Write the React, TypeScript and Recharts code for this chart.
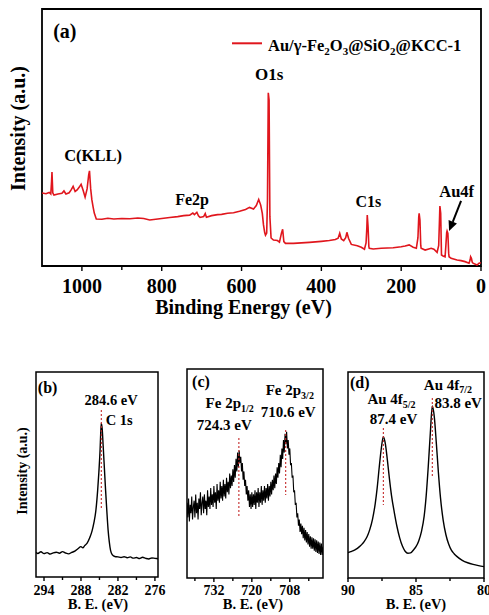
import React from 'react';
import { LineChart, Line, XAxis, YAxis, ReferenceArea, ReferenceLine, ReferenceDot, Legend } from 'recharts';

const FONT = "'Liberation Serif', 'Times New Roman', serif";
const RED = '#e0161d';
const DOT_RED = '#c42a2a';

type Pt = [number, number];

// (a) survey spectrum: [binding energy eV, intensity a.u.]
const surveyPoints: Pt[] = [
  [1100, 28.4], [1090, 28.1], [1082, 28.6], [1078, 28.0], [1076, 33], [1075, 36.6], [1073, 28.5], [1070, 27.6],
  [1060, 28.0], [1050, 28.3], [1045, 29.2], [1040, 28.0], [1032, 28.5], [1027, 29.6], [1022, 31.0], [1017, 29.0],
  [1012, 29.6], [1007, 30.6], [1002, 31.8], [997, 29.5], [992, 26.8], [987, 30], [983, 35.5], [981, 37], [978, 30],
  [975, 25.7], [972, 23], [969, 20.6], [964, 18.3], [950, 18.2], [935, 18.6], [920, 18.3], [900, 18.5], [880, 18.4],
  [860, 18.7], [845, 18.5], [830, 17.9], [815, 18.2], [800, 18.5], [780, 18.9], [760, 19.2], [745, 19.6], [730, 19.8],
  [722, 20.6], [718, 20.0], [712, 20.9], [708, 19.5], [704, 18.9], [695, 19.2], [691, 20.4], [688, 19.0], [675, 19.6],
  [660, 20.0], [650, 20.1], [635, 20.5], [620, 20.7], [605, 21.3], [590, 22.0], [580, 22.8], [570, 22.2], [563, 23.5],
  [557, 25.9], [552, 23.7], [548, 20.5], [545, 16], [542, 13], [540, 12], [537, 12.8], [535, 25.7], [533, 67.4],
  [531, 64.6], [529, 19.2], [526, 10.9], [520, 10.1], [510, 9.9], [505, 9.3], [500, 12.8], [497, 14.3], [494, 9.5],
  [490, 8.8], [470, 8.8], [450, 9.0], [430, 9.2], [400, 9.6], [380, 9.9], [365, 10.3], [358, 10.8], [354, 12.7],
  [350, 10.5], [344, 9.9], [339, 11], [336, 13.1], [332, 10.8], [325, 8.4], [310, 7.9], [300, 7.3], [292, 6.5],
  [288, 9], [286, 15], [285, 19.8], [283, 15.3], [281, 7.5], [280, 6.9], [270, 6.6], [250, 6.9], [220, 7.1],
  [200, 7.5], [190, 7.8], [180, 8.2], [170, 7.3], [162, 6.9], [158, 11], [156, 19], [155, 20.5], [153, 17.9],
  [151, 8], [150, 6.9], [140, 6.2], [125, 6.9], [118, 6.5], [110, 5.3], [106, 8], [104, 18], [103, 23.3], [101, 20.5],
  [99, 4.3], [95, 3.9], [90, 3.6], [88, 8], [86, 13.0], [85, 13.6], [83, 12.7], [81, 5], [80, 3.6], [75, 3.0],
  [60, 2.3], [50, 2.1], [40, 1.7], [30, 1.1], [27, 2.5], [26, 3.6], [24, 3.0], [22, 1.5], [20, 1.1], [10, 0.4],
  [5, 1.1], [0, 1.3],
];
const surveyMajorTicks = [1000, 800, 600, 400, 200, 0];
const surveyMinorTicks = [900, 700, 500, 300, 100];

// (b) C 1s
const c1sPoints: Pt[] = [
  [295.3, 12], [295, 11.5], [294.5, 12.3], [294, 11.4], [293.5, 11.9], [293, 11.2], [292.5, 11.8], [292, 12.1],
  [291.5, 11.6], [291, 12.4], [290.5, 11.7], [290, 11.3], [289.5, 12], [289, 12.6], [288.5, 13.8], [288, 14.8],
  [287.7, 14.2], [287.4, 15.3], [287, 16.5], [286.6, 19], [286.2, 22.5], [285.9, 26.5], [285.6, 32], [285.3, 42],
  [285.1, 51], [284.9, 62], [284.8, 70], [284.7, 75], [284.55, 72], [284.4, 64], [284.2, 53], [284, 42],
  [283.8, 32], [283.6, 23], [283.4, 17], [283.2, 13], [282.9, 10.8], [282.5, 10], [282, 9.8], [281.5, 9.5],
  [281, 9.9], [280.5, 9.4], [280, 9.8], [279.5, 9.2], [279, 9.5], [278.5, 9.0], [278, 9.6], [277.5, 9.1],
  [277, 8.8], [276.5, 9.3], [276, 9.1], [275.5, 8.9],
];
const c1sMajorTicks = [294, 288, 282, 276];
const c1sMinorTicks = [291, 285, 279];

// (c) Fe 2p (noisy)
const fe2pPoints: Pt[] = [
  [740.5, 36], [740.25, 29], [740, 38], [739.75, 27], [739.5, 35], [739.25, 31], [739, 39], [738.75, 28],
  [738.5, 34], [738.25, 37], [738, 29], [737.75, 40], [737.5, 31], [737.25, 36], [737, 28], [736.75, 38],
  [736.5, 33], [736.25, 41], [736, 30], [735.75, 36], [735.5, 39], [735.25, 31], [735, 40], [734.75, 33],
  [734.5, 37], [734.25, 30], [734, 42], [733.75, 34], [733.5, 39], [733.25, 33], [733, 43], [732.75, 35],
  [732.5, 40], [732.25, 34], [732, 44], [731.75, 36], [731.5, 41], [731.25, 33], [731, 45], [730.75, 37],
  [730.5, 42], [730.25, 36], [730, 46], [729.75, 38], [729.5, 44], [729.25, 37], [729, 47], [728.75, 39],
  [728.5, 45], [728.25, 38], [728, 48], [727.75, 41], [727.5, 46], [727.25, 40], [727, 50], [726.75, 43],
  [726.5, 49], [726.25, 44], [726, 52], [725.75, 46], [725.5, 54], [725.25, 48], [725, 57], [724.75, 51],
  [724.5, 60], [724.25, 53], [724, 61], [723.75, 55], [723.5, 58], [723.25, 51], [723, 55], [722.75, 47],
  [722.5, 51], [722.25, 44], [722, 47], [721.75, 40], [721.5, 44], [721.25, 37], [721, 42], [720.75, 34],
  [720.5, 40], [720.25, 33], [720, 41], [719.75, 34], [719.5, 40], [719.25, 35], [719, 42], [718.75, 33],
  [718.5, 41], [718.25, 36], [718, 43], [717.75, 34], [717.5, 41], [717.25, 36], [717, 44], [716.75, 35],
  [716.5, 42], [716.25, 37], [716, 44], [715.75, 36], [715.5, 43], [715.25, 38], [715, 45], [714.75, 37],
  [714.5, 44], [714.25, 39], [714, 46], [713.75, 40], [713.5, 47], [713.25, 42], [713, 49], [712.75, 43],
  [712.5, 50], [712.25, 45], [712, 53], [711.75, 48], [711.5, 55], [711.25, 50], [711, 59], [710.75, 53],
  [710.5, 62], [710.25, 57], [710, 66], [709.75, 60], [709.5, 69], [709.25, 64], [709, 70], [708.75, 62],
  [708.5, 66], [708.25, 59], [708, 62], [707.75, 54], [707.5, 55], [707.25, 48], [707, 49], [706.75, 41],
  [706.5, 42], [706.25, 35], [706, 36], [705.75, 29], [705.5, 31], [705.25, 25], [705, 28], [704.75, 22],
  [704.5, 26], [704.25, 21], [704, 25], [703.75, 19], [703.5, 24], [703.25, 18], [703, 23], [702.75, 17],
  [702.5, 22], [702.25, 16], [702, 21], [701.75, 15], [701.5, 20], [701.25, 14], [701, 19.5], [700.75, 14],
  [700.5, 19], [700.25, 13], [700, 18.5], [699.75, 12.5], [699.5, 18], [699.25, 12], [699, 17.5], [698.75, 11.5],
  [698.5, 17], [698.25, 11], [698, 16.5], [697.75, 11], [697.5, 15],
];
const fe2pMajorTicks = [732, 720, 708];
const fe2pMinorTicks = [738, 726, 714, 702];

// (d) Au 4f
const au4fPoints: Pt[] = [
  [90, 12.3], [89.8, 12.8], [89.6, 13.3], [89.4, 14], [89.2, 15], [89, 16.2], [88.8, 17.8], [88.6, 20],
  [88.4, 23.5], [88.2, 28.5], [88, 36], [87.85, 44], [87.7, 54], [87.55, 63], [87.4, 68.6], [87.25, 65],
  [87.1, 57], [86.95, 48], [86.8, 40], [86.6, 32], [86.4, 25], [86.2, 19.5], [86, 15.5], [85.8, 13],
  [85.6, 12], [85.4, 12.2], [85.2, 13.5], [85, 15.2], [84.8, 18], [84.6, 22.5], [84.4, 30], [84.25, 40],
  [84.1, 54], [83.95, 70], [83.8, 83.5], [83.65, 78], [83.5, 65], [83.35, 51], [83.2, 39], [83, 28],
  [82.8, 21], [82.6, 16.5], [82.4, 13.5], [82.2, 11.8], [82, 10.5], [81.6, 8.6], [81.2, 7.4], [80.8, 6.6],
  [80.4, 6], [80, 5.5],
];
const au4fMajorTicks = [90, 85, 80];
const au4fMinorTicks = [87.5, 82.5];

const toRows = (pts: Pt[]) => pts.map(([e, i]) => ({ e, i }));

function makeTick(major: number[], fontSize: number, labelDy: number, majorLen: number, minorLen: number) {
  return (props: any) => {
    const { x, y, payload } = props;
    const isMajor = major.includes(payload.value);
    return (
      <g>
        <line x1={x} x2={x} y1={y} y2={y + (isMajor ? majorLen : minorLen)} stroke="#000" strokeWidth={1.4} />
        {isMajor && (
          <text x={x} y={y + labelDy} textAnchor="middle" fontFamily={FONT} fontWeight="bold" fontSize={fontSize} fill="#000">
            {payload.value}
          </text>
        )}
      </g>
    );
  };
}

function ann(x: number, y: number, content: React.ReactNode, fontSize: number, anchor: 'start' | 'middle' = 'middle', key?: string) {
  return (
    <ReferenceDot
      key={key}
      x={x}
      y={y}
      r={0}
      fill="none"
      stroke="none"
      ifOverflow="visible"
      label={{
        content: (p: any) => (
          <text x={p.viewBox.x} y={p.viewBox.y} textAnchor={anchor} fontFamily={FONT} fontWeight="bold" fontSize={fontSize} fill="#000">
            {content}
          </text>
        ),
      }}
    />
  );
}

function frameTitles(xTitle: string, xDx: number, xDy: number, yTitle: string, yDx: number, yDy: number, xFs: number, yFs: number) {
  return (p: any) => {
    const vb = p.viewBox;
    const yx = vb.x + yDx;
    const yy = vb.y + yDy;
    return (
      <g>
        <text x={vb.x + xDx} y={vb.y + vb.height + xDy} textAnchor="middle" fontFamily={FONT} fontWeight="bold" fontSize={xFs} fill="#000">
          {xTitle}
        </text>
        {yTitle && (
          <text x={yx} y={yy} transform={`rotate(-90 ${yx} ${yy})`} textAnchor="middle" fontFamily={FONT} fontWeight="bold" fontSize={yFs} fill="#000">
            {yTitle}
          </text>
        )}
      </g>
    );
  };
}

function Survey() {
  const data = toRows(surveyPoints);
  return (
    <LineChart width={489} height={320} data={data} margin={{ top: 9, right: 8, bottom: 0, left: 42 }}>
      <XAxis
        dataKey="e"
        type="number"
        domain={[0, 1100]}
        reversed
        allowDataOverflow
        ticks={[...surveyMajorTicks, ...surveyMinorTicks]}
        interval={0}
        axisLine={false}
        tickLine={false}
        tickSize={0}
        tickMargin={0}
        height={54}
        tick={makeTick(surveyMajorTicks, 20, 27, 5, 4)}
      />
      <YAxis type="number" domain={[0, 100]} allowDataOverflow hide />
      <ReferenceArea
        x1={1100}
        x2={0}
        y1={0}
        y2={100}
        fill="none"
        stroke="#000"
        strokeWidth={1.8}
        fillOpacity={0}
        ifOverflow="visible"
        label={{ content: frameTitles('Binding Energy (eV)', 201.5, 48, 'Intensity (a.u.)', -17, 119.5, 20, 20) }}
      />
      <Line dataKey="i" type="linear" stroke={RED} strokeWidth={1.6} dot={false} isAnimationActive={false} name="Au/γ-Fe2O3@SiO2@KCC-1" />
      {ann(1072, 88.7, '(a)', 20, 'start', 'a')}
      {ann(531, 72.4, 'O1s', 17, 'middle', 'o1s')}
      {ann(972, 40.9, 'C(KLL)', 16.5, 'middle', 'ckll')}
      {ann(724, 23.7, 'Fe2p', 16, 'middle', 'fe2p')}
      {ann(282, 23, 'C1s', 16, 'middle', 'c1s')}
      {ann(61, 26.8, 'Au4f', 16.5, 'middle', 'au4f')}
      <ReferenceLine
        segment={[{ x: 50, y: 25.3 }, { x: 80, y: 13.6 }]}
        stroke="#000"
        strokeWidth={2}
        ifOverflow="visible"
        shape={(p: any) => {
          const { x1, y1, x2, y2 } = p;
          const ang = Math.atan2(y2 - y1, x2 - x1);
          const L = 10;
          const W = 4.5;
          const bx = x2 - L * Math.cos(ang);
          const by = y2 - L * Math.sin(ang);
          const pts = `${x2},${y2} ${bx + W * Math.sin(ang)},${by - W * Math.cos(ang)} ${bx - W * Math.sin(ang)},${by + W * Math.cos(ang)}`;
          return (
            <g>
              <line x1={x1} y1={y1} x2={bx} y2={by} stroke="#000" strokeWidth={2} />
              <polygon points={pts} fill="#000" />
            </g>
          );
        }}
      />
      <Legend
        layout="horizontal"
        verticalAlign="middle"
        align="center"
        wrapperStyle={{ top: 30, left: 228, width: 255, height: 28 }}
        content={() => (
          <svg width={255} height={28} style={{ display: 'block' }}>
            <line x1={4} x2={34} y1={13.3} y2={13.3} stroke={RED} strokeWidth={2} />
            <text x={40} y={20.5} fontFamily={FONT} fontWeight="bold" fontSize={16.5} fill="#000">
              <tspan>Au/γ-Fe</tspan>
              <tspan fontSize={11} dy={4}>2</tspan>
              <tspan dy={-4}>O</tspan>
              <tspan fontSize={11} dy={4}>3</tspan>
              <tspan dy={-4}>@SiO</tspan>
              <tspan fontSize={11} dy={4}>2</tspan>
              <tspan dy={-4}>@KCC-1</tspan>
            </text>
          </svg>
        )}
      />
    </LineChart>
  );
}

function C1s() {
  const data = toRows(c1sPoints);
  return (
    <LineChart width={170} height={285} data={data} margin={{ top: 42, right: 12, bottom: 0, left: 36 }}>
      <XAxis
        dataKey="e"
        type="number"
        domain={[275.5, 295.3]}
        reversed
        allowDataOverflow
        ticks={[...c1sMajorTicks, ...c1sMinorTicks]}
        interval={0}
        axisLine={false}
        tickLine={false}
        tickSize={0}
        tickMargin={0}
        height={38}
        tick={makeTick(c1sMajorTicks, 14, 17.5, 4, 3)}
      />
      <YAxis type="number" domain={[0, 100]} allowDataOverflow hide />
      <ReferenceArea
        x1={295.3}
        x2={275.5}
        y1={0}
        y2={100}
        fill="none"
        fillOpacity={0}
        stroke="#000"
        strokeWidth={1.5}
        ifOverflow="visible"
        label={{ content: frameTitles('B. E. (eV)', 62, 32, 'Intensity (a.u.)', -9, 99, 14.5, 14) }}
      />
      <Line dataKey="i" type="monotone" stroke="#000" strokeWidth={1.4} dot={false} isAnimationActive={false} />
      <ReferenceLine segment={[{ x: 284.7, y: 81.5 }, { x: 284.7, y: 33.7 }]} stroke={DOT_RED} strokeWidth={1.1} strokeDasharray="2 2" />
      {ann(295, 89.8, '(b)', 16, 'start', 'b')}
      {ann(283.1, 83.9, '284.6 eV', 14.5, 'middle', 'b1')}
      {ann(284, 74.1, 'C 1s', 14.5, 'start', 'b2')}
    </LineChart>
  );
}

function Fe2p() {
  const data = toRows(fe2pPoints);
  return (
    <LineChart width={160} height={285} data={data} margin={{ top: 39, right: 7, bottom: 0, left: 17 }}>
      <XAxis
        dataKey="e"
        type="number"
        domain={[697.5, 740.5]}
        reversed
        allowDataOverflow
        ticks={[...fe2pMajorTicks, ...fe2pMinorTicks]}
        interval={0}
        axisLine={false}
        tickLine={false}
        tickSize={0}
        tickMargin={0}
        height={37}
        tick={makeTick(fe2pMajorTicks, 14, 16.5, 4, 3)}
      />
      <YAxis type="number" domain={[0, 100]} allowDataOverflow hide />
      <ReferenceArea
        x1={740.5}
        x2={697.5}
        y1={0}
        y2={100}
        fill="none"
        fillOpacity={0}
        stroke="#000"
        strokeWidth={1.5}
        ifOverflow="visible"
        label={{ content: frameTitles('B. E. (eV)', 66, 31, '', 0, 0, 14.5, 14) }}
      />
      <Line dataKey="i" type="linear" stroke="#000" strokeWidth={1.1} dot={false} isAnimationActive={false} />
      <ReferenceLine segment={[{ x: 724.1, y: 67 }, { x: 724.1, y: 29.2 }]} stroke={DOT_RED} strokeWidth={1.1} strokeDasharray="2 2" />
      <ReferenceLine segment={[{ x: 709.3, y: 70.8 }, { x: 709.3, y: 39.7 }]} stroke={DOT_RED} strokeWidth={1.1} strokeDasharray="2 2" />
      {ann(738.9, 91.4, '(c)', 16, 'start', 'c')}
      {ann(727, 81.3, [<tspan key="m">Fe 2p</tspan>, <tspan key="s" fontSize={10} dy={4}>1/2</tspan>], 15, 'middle', 'c1')}
      {ann(728.7, 70.8, '724.3 eV', 15, 'middle', 'c2')}
      {ann(708, 87.6, [<tspan key="m">Fe 2p</tspan>, <tspan key="s" fontSize={10} dy={4}>3/2</tspan>], 15, 'middle', 'c3')}
      {ann(708.5, 77, '710.6 eV', 15, 'middle', 'c4')}
    </LineChart>
  );
}

function Au4f() {
  const data = toRows(au4fPoints);
  return (
    <LineChart width={159} height={285} data={data} margin={{ top: 42, right: 5, bottom: 0, left: 18 }}>
      <XAxis
        dataKey="e"
        type="number"
        domain={[80, 90]}
        reversed
        allowDataOverflow
        ticks={[...au4fMajorTicks, ...au4fMinorTicks]}
        interval={0}
        axisLine={false}
        tickLine={false}
        tickSize={0}
        tickMargin={0}
        height={37}
        tick={makeTick(au4fMajorTicks, 14, 16.5, 4, 3)}
      />
      <YAxis type="number" domain={[0, 100]} allowDataOverflow hide />
      <ReferenceArea
        x1={90}
        x2={80}
        y1={0}
        y2={100}
        fill="none"
        fillOpacity={0}
        stroke="#000"
        strokeWidth={1.5}
        ifOverflow="visible"
        label={{ content: frameTitles('B. E. (eV)', 68, 31, '', 0, 0, 14.5, 14) }}
      />
      <Line dataKey="i" type="monotone" stroke="#000" strokeWidth={1.4} dot={false} isAnimationActive={false} />
      <ReferenceLine segment={[{ x: 87.4, y: 72.8 }, { x: 87.4, y: 35.4 }]} stroke={DOT_RED} strokeWidth={1.1} strokeDasharray="2 2" />
      <ReferenceLine segment={[{ x: 83.8, y: 87.4 }, { x: 83.8, y: 49 }]} stroke={DOT_RED} strokeWidth={1.1} strokeDasharray="2 2" />
      {ann(89.85, 92.2, '(d)', 16, 'start', 'd')}
      {ann(86.8, 84.5, [<tspan key="m">Au 4f</tspan>, <tspan key="s" fontSize={10} dy={4}>5/2</tspan>], 15, 'middle', 'd1')}
      {ann(86.65, 74.8, '87.4 eV', 15, 'middle', 'd2')}
      {ann(82.65, 91.5, [<tspan key="m">Au 4f</tspan>, <tspan key="s" fontSize={10} dy={3.5}>7/2</tspan>], 15, 'middle', 'd3')}
      {ann(81.9, 82.7, '83.8 eV', 15, 'middle', 'd4')}
    </LineChart>
  );
}

export default function App() {
  return (
    <div style={{ position: 'absolute', left: 0, top: 0, width: 489, height: 615, background: '#fff', overflow: 'hidden' }}>
      <div style={{ position: 'absolute', left: 0, top: 0 }}>
        <Survey />
      </div>
      <div style={{ position: 'absolute', left: 0, top: 330 }}>
        <C1s />
      </div>
      <div style={{ position: 'absolute', left: 170, top: 330 }}>
        <Fe2p />
      </div>
      <div style={{ position: 'absolute', left: 330, top: 330 }}>
        <Au4f />
      </div>
    </div>
  );
}
